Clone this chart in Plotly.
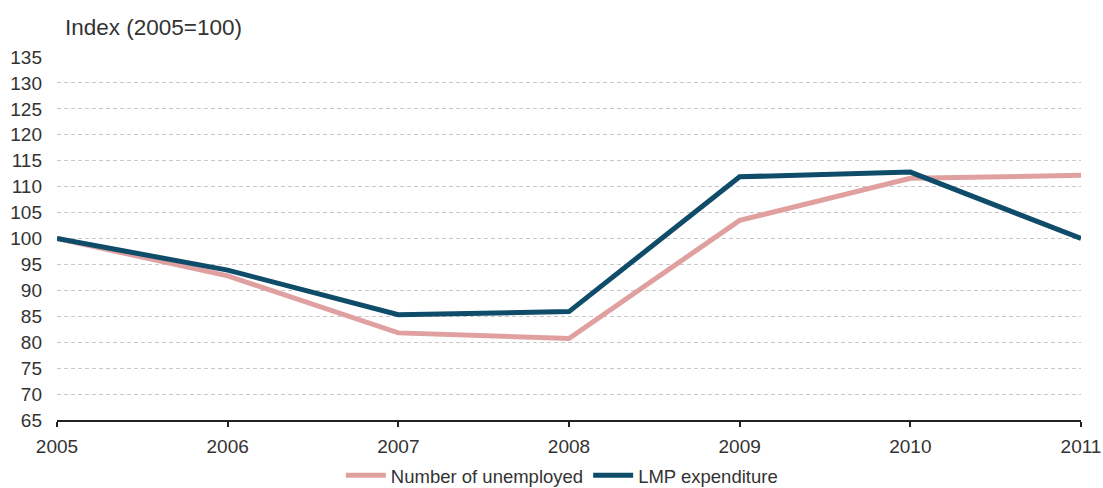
import plotly.graph_objects as go

years = [2005, 2006, 2007, 2008, 2009, 2010, 2011]
unemployed = [100, 92.8, 81.8, 80.7, 103.5, 111.6, 112.2]
lmp = [100, 93.9, 85.3, 85.9, 111.9, 112.8, 100]
y_ticks = list(range(65, 140, 5))

fig = go.Figure()
fig.add_trace(go.Scatter(x=years, y=unemployed, mode="lines", name="Number of unemployed",
                         line=dict(color="#E0A0A0", width=5)))
fig.add_trace(go.Scatter(x=years, y=lmp, mode="lines", name="LMP expenditure",
                         line=dict(color="#0F4C69", width=5)))

fig.update_layout(
    width=1103, height=488,
    margin=dict(l=57, r=22, t=57, b=68),
    plot_bgcolor="white", paper_bgcolor="white",
    font=dict(family="Liberation Sans, Arial, sans-serif", color="#333333", size=19),
    showlegend=True,
    legend=dict(orientation="h", x=0.493, xanchor="center", yref="container", y=0.025,
                yanchor="middle", font=dict(size=18.5, color="#333333"), itemwidth=40,
                tracegroupgap=0, bgcolor="rgba(0,0,0,0)"),
    annotations=[dict(text="Index (2005=100)", xref="paper", yref="paper", x=0.006,
                      y=1 + 29 / 363, xanchor="left", yanchor="middle", showarrow=False,
                      font=dict(size=22.5, color="#333333"))],
)
fig.update_xaxes(range=[2005, 2011], tickvals=years, ticktext=[str(y) for y in years],
                 showgrid=False, showline=True, linecolor="#222222", linewidth=2,
                 ticks="outside", ticklen=5, tickcolor="#222222", tickwidth=1.5,
                 zeroline=False, automargin=False, ticklabelstandoff=3,
                 tickfont=dict(size=19, color="#333333"))
fig.update_yaxes(range=[65, 135], tickvals=y_ticks, showgrid=True, gridcolor="#C8C8C8",
                 griddash="4px,3px", gridwidth=1, showline=False, zeroline=False,
                 automargin=False, ticks="", ticklabelstandoff=14,
                 tickfont=dict(size=19, color="#333333"))

fig.write_html("out.html")
